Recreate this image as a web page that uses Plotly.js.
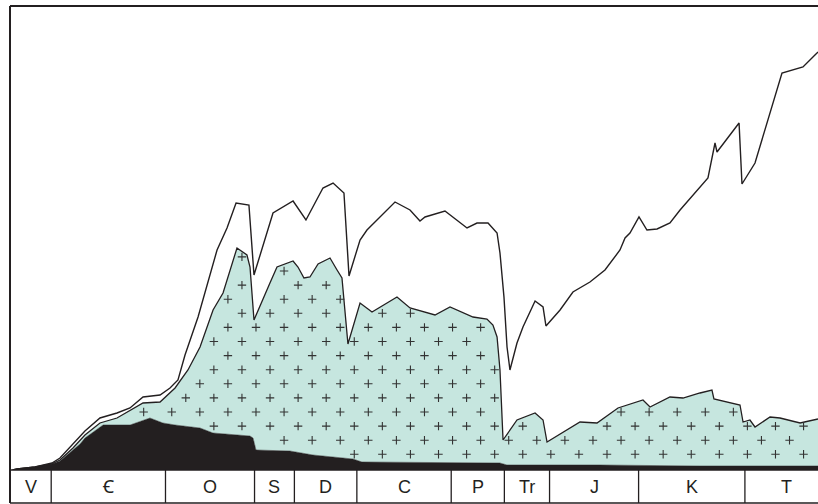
<!DOCTYPE html>
<html><head><meta charset="utf-8">
<script src="https://cdn.plot.ly/plotly-3.0.1.min.js"></script>
<style>html,body{margin:0;padding:0;background:#fff}#chart{width:818px;height:504px}</style>
</head><body><div id="chart"></div>
<script>
// Geologic periods (labels) and their boundaries in Ma (oldest first; last value = end of T)
const periodLabels = ['V', 'Ꞓ', 'O', 'S', 'D', 'C', 'P', 'Tr', 'J', 'K', 'T'];
const periodBounds = [620, 589, 503, 436, 406, 359, 288, 248, 214, 147, 67, 4];

// Black area: top of the Cambrian fauna (number of families)
const blackAge = [618, 614.7, 601.2, 588.4, 582.4, 572.6, 567.3, 563.6, 552.3, 550.0, 529.7, 514.7, 504.9, 495.8, 477.0, 467.2, 439.4, 437.1, 434.9, 409.3, 392.0, 361.9, 355.1, 251.3, 246.0, 176.0, 100.8, 12];
const blackTop = [0, 2, 6, 12, 18, 40, 52, 64, 86, 90, 90, 104, 94, 90, 84, 74, 68, 64, 40, 38, 30, 22, 16, 14, 10, 10, 8, 8];

// Teal dotted area: top of the Paleozoic fauna (cumulative)
const tealAge = [618, 614.7, 601.2, 588.4, 582.4, 572.6, 563.6, 552.3, 539.5, 519.9, 507.1, 495.8, 486.1, 477.0, 467.2, 459.7, 449.2, 441.7, 439.4, 436.4, 424.4, 419.1, 407.0, 403.3, 398.8, 394.3, 388.2, 379.2, 373.9, 370.2, 365.7, 356.6, 347.6, 328.8, 319.0, 300.2, 288.9, 271.6, 261.1, 256.6, 253.5, 251.3, 249.0, 238.5, 224.9, 218.9, 215.9, 191.1, 178.3, 162.5, 143.7, 138.4, 123.4, 113.6, 100.8, 91.8, 90.3, 70.7, 68.4, 63.2, 59.4, 48.1, 40.6, 25.5, 12];
const tealTop = [0, 2, 6, 12, 20, 44, 70, 94, 104, 134, 136, 164, 200, 246, 320, 354, 444, 430, 406, 300, 374, 406, 418, 406, 384, 386, 412, 424, 400, 384, 252, 334, 316, 346, 324, 310, 326, 306, 302, 290, 266, 200, 60, 100, 114, 100, 56, 96, 94, 124, 140, 126, 146, 144, 154, 160, 142, 130, 96, 100, 86, 106, 104, 94, 102];

// Top line: total number of families
const totalAge = [618, 614.7, 601.2, 588.4, 582.4, 572.6, 563.6, 552.3, 539.5, 529.7, 519.9, 507.1, 499.6, 493.6, 488.3, 478.5, 464.2, 456.7, 449.9, 440.2, 436.4, 422.1, 407.0, 397.3, 384.5, 376.9, 368.7, 364.9, 356.6, 351.4, 341.6, 330.3, 319.0, 311.5, 307.7, 292.7, 276.1, 268.6, 260.3, 253.5, 251.3, 248.3, 246.0, 243.8, 238.5, 234.0, 224.9, 218.9, 216.7, 206.1, 196.4, 183.6, 172.3, 161.0, 157.2, 153.5, 146.7, 140.7, 133.1, 123.4, 115.8, 94.8, 89.5, 88.0, 71.4, 69.2, 59.4, 45.1, 39.1, 23.3, 12];
const totalFam = [0, 2, 6, 14, 24, 52, 78, 104, 114, 124, 146, 150, 164, 180, 230, 306, 440, 484, 534, 530, 390, 514, 538, 500, 564, 574, 554, 388, 460, 480, 506, 536, 520, 498, 506, 518, 484, 494, 494, 474, 434, 346, 246, 200, 254, 286, 338, 326, 288, 320, 356, 376, 400, 440, 464, 474, 506, 480, 482, 494, 520, 584, 654, 636, 694, 572, 614, 744, 794, 806, 836];

const X_RANGE = [620, 12];
const Y_RANGE = [0, 928];
const INK = '#231f20';
const TEAL = '#c6e6df';

function interp(xs, ys, x) {
  for (let i = 0; i < xs.length - 1; i++) {
    const a = xs[i], b = xs[i + 1];
    if ((x <= a && x >= b) || (x >= a && x <= b)) {
      if (a === b) return ys[i];
      const t = (x - a) / (b - a);
      return ys[i] + t * (ys[i + 1] - ys[i]);
    }
  }
  return null;
}

// staggered "+" texture inside the teal band
const dotX = [], dotY = [];
const stepX = 10.565, stepY = 28.2, x0 = 434.9, y0 = 116;
for (let m = -20; m <= 42; m++) {
  for (let n = -5; n <= 16; n++) {
    if (((m + n) % 2 + 2) % 2 !== 0) continue;
    const x = x0 - stepX * m, y = y0 + stepY * n;
    if (x > 619 || x < 12) continue;
    let lo = -Infinity, hi = Infinity, ok = true;
    for (const dx of [-2.2, 0, 2.2]) {
      const b = interp(blackAge, blackTop, x + dx), t = interp(tealAge, tealTop, x + dx);
      if (b === null || t === null) { ok = false; break; }
      lo = Math.max(lo, b); hi = Math.min(hi, t);
    }
    if (ok && y > lo + 6 && y < hi - 6) { dotX.push(x); dotY.push(y); }
  }
}

const traces = [
  { x: blackAge, y: blackTop, type: 'scatter', mode: 'lines', fill: 'tozeroy',
    fillcolor: INK, line: { color: INK, width: 0.5 }, hoverinfo: 'skip' },
  { x: tealAge, y: tealTop, type: 'scatter', mode: 'lines', fill: 'tonexty',
    fillcolor: TEAL, line: { color: INK, width: 1.3 }, hoverinfo: 'skip' },
  { x: dotX, y: dotY, type: 'scatter', mode: 'markers', hoverinfo: 'skip',
    marker: { symbol: 'cross-thin', size: 6, color: '#333333', line: { color: '#333333', width: 1.1 } } },
  { x: totalAge, y: totalFam, type: 'scatter', mode: 'lines',
    line: { color: INK, width: 1.4 }, hoverinfo: 'skip' }
];

const bandBottom = -33 / 464;
const shapes = [
  { type: 'line', xref: 'paper', yref: 'paper', x0: 0, x1: 0, y0: 1, y1: bandBottom, line: { color: INK, width: 2 } },
  { type: 'line', xref: 'paper', yref: 'paper', x0: 0, x1: 1, y0: 1, y1: 1, line: { color: INK, width: 2 } },
  { type: 'line', xref: 'paper', yref: 'paper', x0: 0, x1: 1, y0: 0, y1: 0, line: { color: INK, width: 1.5 } },
  { type: 'line', xref: 'paper', yref: 'paper', x0: 0, x1: 1, y0: bandBottom, y1: bandBottom, line: { color: INK, width: 1.5 } }
];
for (let i = 1; i < periodBounds.length - 1; i++) {
  shapes.push({ type: 'line', xref: 'x', yref: 'paper', x0: periodBounds[i], x1: periodBounds[i],
    y0: 0, y1: bandBottom, line: { color: INK, width: 1.3 } });
}
const annotations = periodLabels.map((lab, i) => ({
  x: (periodBounds[i] + periodBounds[i + 1]) / 2, xref: 'x', yref: 'paper',
  y: bandBottom / 2, text: lab, showarrow: false, xanchor: 'center', yanchor: 'middle',
  font: { family: 'Liberation Sans, DejaVu Sans, Noto Sans, Arial, sans-serif', size: 18, color: INK }
}));

const layout = {
  width: 818, height: 504,
  margin: { l: 10, r: 0, t: 6, b: 34 },
  paper_bgcolor: '#ffffff', plot_bgcolor: '#ffffff',
  showlegend: false,
  xaxis: { range: X_RANGE, visible: false, showgrid: false, zeroline: false, fixedrange: true },
  yaxis: { range: Y_RANGE, visible: false, showgrid: false, zeroline: false, fixedrange: true },
  shapes: shapes, annotations: annotations
};
Plotly.newPlot('chart', traces, layout, { staticPlot: true, displayModeBar: false });
</script>
</body></html>
